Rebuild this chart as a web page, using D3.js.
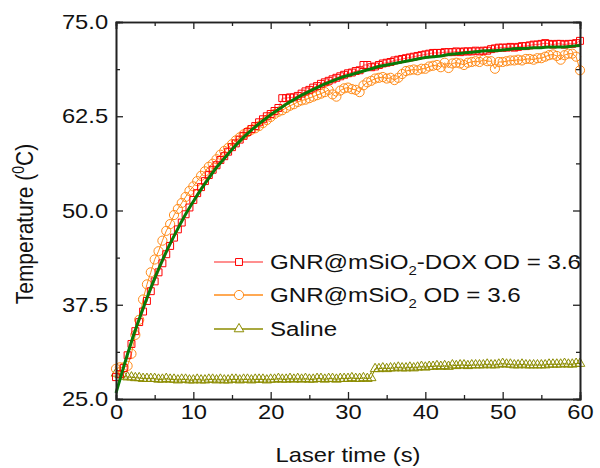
<!DOCTYPE html>
<html><head><meta charset="utf-8">
<script src="https://cdn.jsdelivr.net/npm/d3@7"></script>
<style>
html,body{margin:0;padding:0;background:#fff;}
text{font-family:"Liberation Sans",Arial,sans-serif;}
</style></head>
<body><svg id="c" width="600" height="468"></svg>
<script>
// time axis (s), sampled every 0.5 s
const timeStep = 0.5;
const doxValues = [27.9,28.3,29.1,30.8,32.3,34.0,35.2,36.6,38.0,39.3,40.6,41.8,43.0,44.2,45.3,46.4,47.5,48.4,49.5,50.4,
51.4,52.3,53.1,53.9,54.7,55.4,56.0,56.7,57.2,57.8,58.4,58.9,59.4,59.9,60.4,60.8,61.2,61.7,62.1,62.5,
62.8,63.2,63.6,64.9,64.9,65.0,65.0,65.2,65.5,65.8,66.0,66.3,66.5,66.8,67.0,67.2,67.4,67.6,67.8,68.0,
68.2,68.3,68.5,68.6,69.3,69.3,69.0,69.1,69.3,69.5,69.6,69.7,69.9,70.0,70.1,70.2,70.3,70.4,70.5,70.6,
70.7,70.8,70.9,70.9,70.9,71.0,71.0,71.0,71.1,71.0,71.1,71.1,71.1,71.2,71.1,71.2,71.2,71.4,71.5,71.6,
71.6,71.6,71.7,71.6,71.7,71.8,71.8,71.9,72.0,72.0,72.1,72.2,72.1,72.0,72.1,72.1,72.0,72.1,72.1,72.2,72.5];
const mSiO2Values = [29.0,29.2,29.2,29.4,31.0,33.5,35.5,38.2,40.2,41.8,43.5,44.6,46.0,47.3,48.2,49.4,50.2,51.0,51.8,52.6,
53.2,53.9,54.6,55.2,55.8,56.2,56.8,57.4,57.9,58.3,58.8,59.3,59.7,60.1,60.4,60.7,60.9,61.2,61.6,62.0,
62.4,62.8,63.1,63.3,63.6,63.9,64.1,64.4,64.6,64.7,64.9,65.1,65.3,65.5,65.7,66.0,65.4,65.1,65.9,66.2,
66.3,66.1,66.0,65.7,66.6,67.0,67.2,67.5,67.6,67.7,67.5,67.6,67.3,67.6,68.1,68.5,68.6,68.7,68.6,68.8,
68.8,69.1,69.2,69.3,69.0,69.6,68.9,69.5,69.6,69.5,69.3,69.6,69.7,69.8,69.7,70.0,69.8,69.8,68.8,69.7,
69.7,69.8,69.9,69.9,70.0,69.9,70.1,70.1,70.0,70.2,70.2,70.4,70.6,70.7,70.5,70.0,70.6,70.8,70.8,70.4,68.6];
const salineValues = [28.4,28.2,28.0,27.9,27.9,27.8,27.8,27.7,27.7,27.7,27.7,27.6,27.6,27.7,27.6,27.6,27.5,27.6,27.6,27.5,
27.5,27.6,27.5,27.5,27.6,27.6,27.5,27.6,27.5,27.5,27.6,27.6,27.5,27.6,27.6,27.5,27.6,27.6,27.6,27.5,
27.6,27.6,27.7,27.6,27.6,27.7,27.6,27.7,27.6,27.7,27.6,27.6,27.7,27.7,27.6,27.7,27.7,27.6,27.7,27.7,
27.7,27.8,27.7,27.7,27.8,27.7,27.8,29.0,29.0,29.1,29.0,29.1,29.1,29.2,29.1,29.1,29.2,29.1,29.2,29.3,
29.2,29.3,29.3,29.4,29.3,29.4,29.3,29.5,29.4,29.5,29.5,29.4,29.5,29.5,29.5,29.5,29.6,29.5,29.5,29.6,
29.7,29.6,29.6,29.5,29.5,29.6,29.5,29.5,29.5,29.5,29.5,29.5,29.6,29.6,29.6,29.6,29.7,29.6,29.6,29.7,29.7];
// fitted curve, every 1 s
const fitValues = [25.8,29.3,32.6,35.6,38.4,41.0,43.4,45.6,47.6,49.5,51.2,52.8,54.3,55.7,56.9,58.1,59.2,60.2,61.1,61.9,
62.7,63.4,64.1,64.7,65.3,65.8,66.3,66.8,67.2,67.6,67.9,68.2,68.5,68.8,69.1,69.3,69.5,69.7,69.9,70.1,
70.3,70.4,70.5,70.7,70.8,70.9,71.0,71.1,71.2,71.2,71.3,71.4,71.5,71.5,71.6,71.6,71.7,71.7,71.7,71.8,71.9];
const xMajor = [0,10,20,30,40,50,60];
const xMinor = [5,15,25,35,45,55];
const yMajor = [25.0,37.5,50.0,62.5,75.0];
const yMinor = [31.25,43.75,56.25,68.75];
const seriesNames = ["GNR@mSiO|2|-DOX OD = 3.6","GNR@mSiO|2| OD = 3.6","Saline"];

const svg = d3.select("#c");
const L=116,R=580,T=22,B=399;
const x = d3.scaleLinear().domain([0,60]).range([L,R]);
const y = d3.scaleLinear().domain([25,75]).range([B,T]);

const toPts = (arr, step) => arr.map((v,i)=>({t:i*step, v}));
const dox = toPts(doxValues, timeStep), msi = toPts(mSiO2Values, timeStep),
      sal = toPts(salineValues, timeStep), fit = toPts(fitValues, 1);
const line = d3.line().x(d=>x(d.t)).y(d=>y(d.v));

const cols = {dox:{line:"#ff6a6a",mk:"#ff0000"}, msi:{line:"#ff8c1a",mk:"#ff8c1a"}, sal:{line:"#8c8c00",mk:"#8c8c00"}};
const sq = d3.symbol().type(d3.symbolSquare).size(48);
const ci = d3.symbol().type(d3.symbolCircle).size(66);
const tr = d3.symbol().type(d3.symbolTriangle).size(40);

const g = svg.append("g");
function drawSeries(data, c, sym){
  g.append("path").datum(data).attr("d",line).attr("fill","none").attr("stroke",c.line).attr("stroke-width",1);
  g.selectAll(null).data(data).enter().append("path").attr("d",sym)
   .attr("transform",d=>`translate(${x(d.t)},${y(d.v)})`)
   .attr("fill","none").attr("stroke",c.mk).attr("stroke-width",1);
}
drawSeries(sal, cols.sal, tr);
drawSeries(msi, cols.msi, ci);
drawSeries(dox, cols.dox, sq);
g.append("path").datum(fit).attr("d",line.curve(d3.curveMonotoneX)).attr("fill","none")
 .attr("stroke","#087a08").attr("stroke-width",3);

// axes
const FS = 21, SX = 1.13;
const ax = svg.append("g");
function axisG(a, tx, ty){ const gg = ax.append("g").attr("transform",`translate(${tx},${ty})`).call(a);
  gg.select(".domain").attr("stroke","#222").attr("stroke-width",1.6);
  gg.selectAll(".tick line").attr("stroke","#222").attr("stroke-width",1.3);
  gg.selectAll("text").attr("font-size",FS).attr("fill","#111").attr("font-family","Liberation Sans, Arial, sans-serif")
    .attr("transform",`scale(${SX},1)`);
  return gg;}
axisG(d3.axisBottom(x).tickValues(xMajor).tickSize(-7).tickPadding(5).tickFormat(d3.format("d")),0,B);
axisG(d3.axisBottom(x).tickValues(xMinor).tickSize(-4).tickFormat(""),0,B);
axisG(d3.axisTop(x).tickValues(xMajor).tickSize(-7).tickFormat(""),0,T);
axisG(d3.axisTop(x).tickValues(xMinor).tickSize(-4).tickFormat(""),0,T);
axisG(d3.axisLeft(y).tickValues(yMajor).tickSize(-7).tickPadding(7).tickFormat(d3.format(".1f")),L,0);
axisG(d3.axisLeft(y).tickValues(yMinor).tickSize(-4).tickFormat(""),L,0);
axisG(d3.axisRight(y).tickValues(yMajor).tickSize(-7).tickFormat(""),R,0);
axisG(d3.axisRight(y).tickValues(yMinor).tickSize(-4).tickFormat(""),R,0);

// axis titles
svg.append("g").attr("transform",`translate(348,462) scale(${SX},1)`)
  .append("text").attr("text-anchor","middle").attr("font-size",FS).attr("fill","#111").text("Laser time (s)");
const yl = svg.append("g").attr("transform",`translate(33,224) scale(${SX},1) rotate(-90)`)
  .append("text").attr("text-anchor","middle").attr("font-size",21).attr("fill","#111");
yl.append("tspan").text("Temperature (");
yl.append("tspan").attr("dy",-8).attr("font-size",14).text("0");
yl.append("tspan").attr("dy",8).text("C)");

// legend
const legRows = [262,295,329];
const legCols = [cols.dox, cols.msi, cols.sal];
const legSyms = [sq, ci, tr];
seriesNames.forEach((name,i)=>{
  const yy = legRows[i];
  svg.append("line").attr("x1",214).attr("x2",263).attr("y1",yy).attr("y2",yy).attr("stroke",legCols[i].line).attr("stroke-width",1.5);
  svg.append("path").attr("d",legSyms[i]).attr("transform",`translate(239,${yy})`).attr("fill","#fff").attr("stroke",legCols[i].mk).attr("stroke-width",1);
  const t = svg.append("g").attr("transform",`translate(270,${yy+7}) scale(1.15,1)`)
    .append("text").attr("font-size",FS).attr("fill","#111");
  const parts = name.split("|");
  t.append("tspan").text(parts[0]);
  if(parts.length>1){
    t.append("tspan").attr("dy",6).attr("font-size",13).text(parts[1]);
    t.append("tspan").attr("dy",-6).text(parts[2]);
  }
});
</script></body></html>
